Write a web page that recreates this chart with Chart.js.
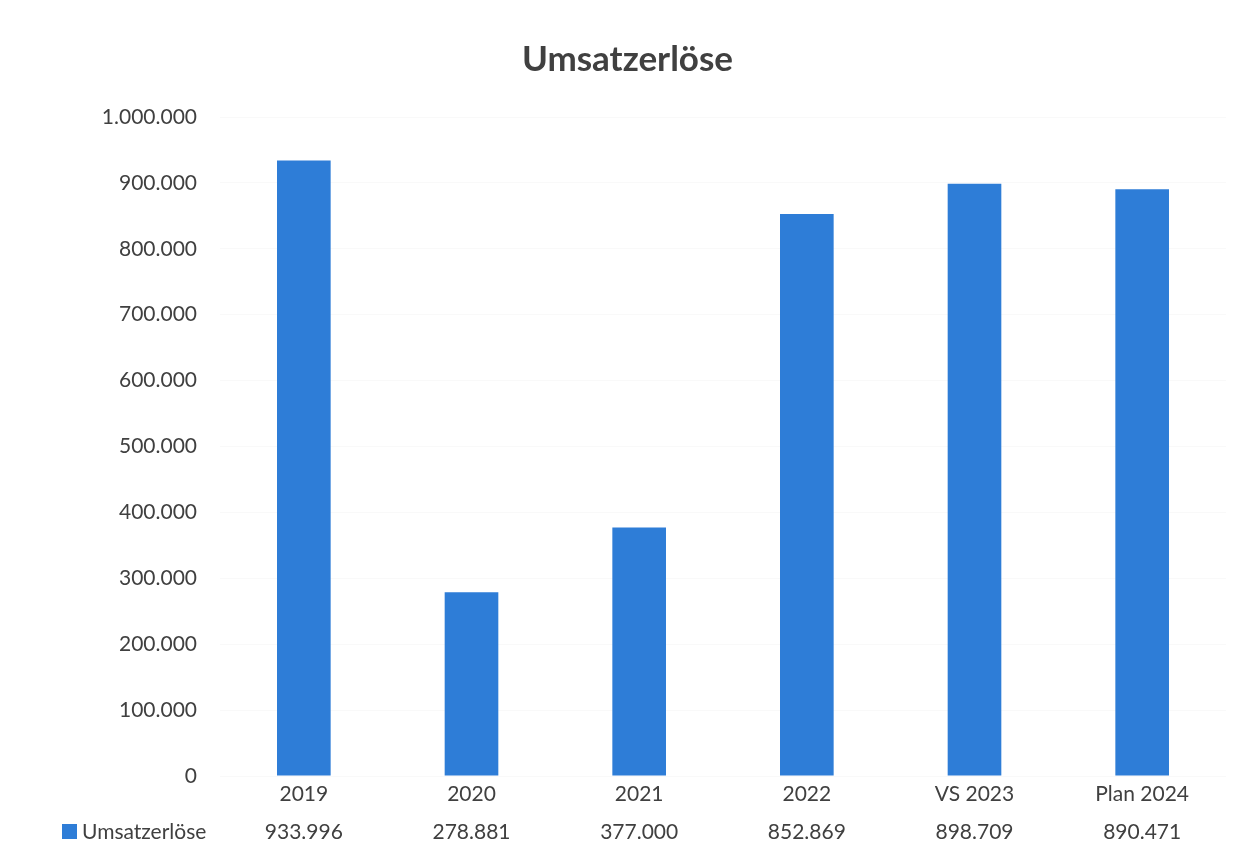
<!DOCTYPE html>
<html>
<head>
<meta charset="utf-8">
<script src="https://cdn.jsdelivr.net/npm/chart.js@4/dist/chart.umd.min.js"></script>
<style>
  html, body { margin: 0; padding: 0; background: #fff; }
  #wrap { width: 1255px; height: 845px; }
</style>
</head>
<body>
<div id="wrap"><canvas id="umsatzChart"></canvas></div>
<script>
const categories = ['2019', '2020', '2021', '2022', 'VS 2023', 'Plan 2024'];
const umsatz = [933996, 278881, 377000, 852869, 898709, 890471];
const seriesName = 'Umsatzerlöse';
const yTicks = [0, 100000, 200000, 300000, 400000, 500000, 600000, 700000, 800000, 900000, 1000000];

const barColor = '#2e7dd7';
const textColor = '#404040';
const fontFamily = 'Lato, "Open Sans", sans-serif';

// German thousands separator: 1.000.000
function fmt(v) {
    return String(v).replace(/\B(?=(\d{3})+(?!\d))/g, '.');
}

// data table row under the axis (legend key + values)
const dataTableRow = {
    id: 'dataTableRow',
    afterDraw(chart) {
        const ctx = chart.ctx;
        const x = chart.scales.x;
        const rowY = 832;
        ctx.save();
        ctx.font = '21px ' + fontFamily;
        ctx.fillStyle = textColor;
        ctx.textBaseline = 'middle';
        ctx.textAlign = 'center';
        umsatz.forEach((v, i) => {
            ctx.fillText(fmt(v), x.getPixelForTick(i), rowY);
        });
        ctx.fillStyle = barColor;
        ctx.fillRect(62, rowY - 8, 15, 15);
        ctx.fillStyle = textColor;
        ctx.textAlign = 'left';
        ctx.fillText(seriesName, 82, rowY);
        ctx.restore();
    }
};

const ctx = document.getElementById('umsatzChart').getContext('2d');
new Chart(ctx, {
    type: 'bar',
    data: {
        labels: categories,
        datasets: [{
            label: seriesName,
            data: umsatz,
            backgroundColor: barColor,
            borderWidth: 0,
            barPercentage: 1,
            categoryPercentage: 0.32
        }]
    },
    options: {
        responsive: true,
        maintainAspectRatio: false,
        animation: false,
        layout: { padding: { left: 29, right: 29, top: 0, bottom: 0 } },
        scales: {
            x: {
                grid: { display: false, drawTicks: false },
                border: { display: false },
                ticks: { color: textColor, font: { family: fontFamily, size: 21 }, padding: 6 },
                afterFit(scale) { scale.height = 69; }
            },
            y: {
                min: 0,
                max: 1000000,
                afterBuildTicks(scale) { scale.ticks = yTicks.map(v => ({ value: v })); },
                grid: { color: 'rgba(0,0,0,0.025)', drawTicks: false },
                border: { display: false },
                ticks: {
                    color: textColor,
                    font: { family: fontFamily, size: 21 },
                    padding: 23,
                    callback: v => fmt(v)
                },
                afterFit(scale) { scale.width = 191; }
            }
        },
        plugins: {
            legend: { display: false },
            tooltip: { enabled: false },
            title: {
                display: true,
                text: seriesName,
                color: textColor,
                font: { family: fontFamily, size: 35, weight: 'bold' },
                padding: { top: 39, bottom: 36 }
            }
        }
    },
    plugins: [dataTableRow]
});
</script>
</body>
</html>
